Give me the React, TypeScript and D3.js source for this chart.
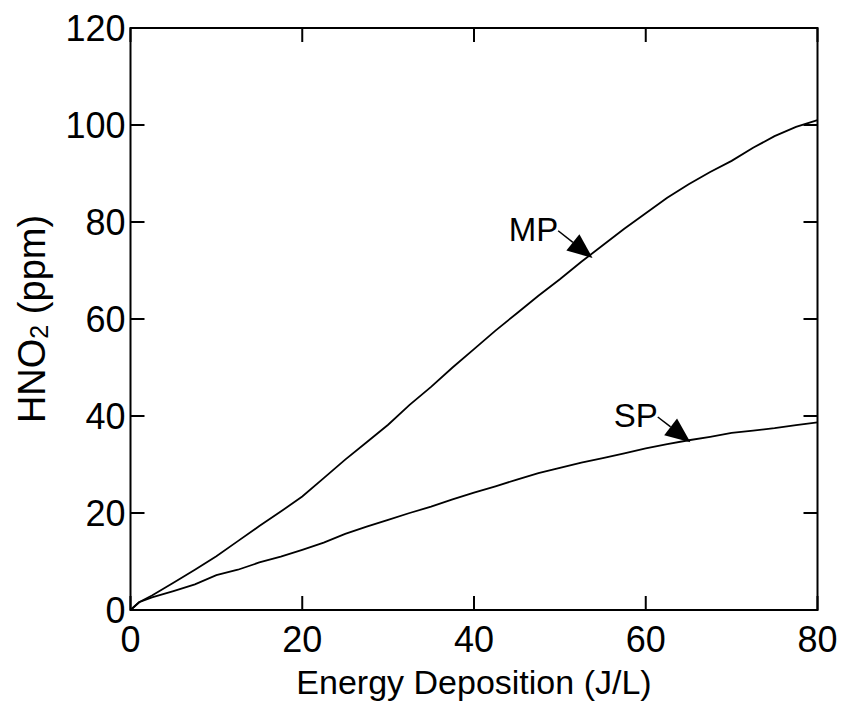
import * as d3 from "d3";
import { useEffect, useRef } from "react";

// energy deposition (J/L)
const energy = [0, 1, 2.5, 5, 7.5, 10, 12.5, 15, 17.5, 20, 22.5, 25, 27.5, 30, 32.5, 35, 37.5, 40, 42.5, 45, 47.5, 50, 52.5, 55, 57.5, 60, 62.5, 65, 67.5, 70, 72.5, 75, 77.5, 80];
// HNO2 (ppm), multi pulse
const mpValues = [0, 1.6, 3.0, 5.6, 8.3, 11.1, 14.2, 17.3, 20.3, 23.4, 27.2, 31.0, 34.6, 38.2, 42.3, 46.0, 50.0, 53.8, 57.6, 61.2, 64.8, 68.2, 71.8, 75.2, 78.6, 81.8, 85.0, 87.8, 90.3, 92.6, 95.3, 97.7, 99.6, 101];
// HNO2 (ppm), single pulse
const spValues = [0, 1.6, 2.6, 3.9, 5.3, 7.2, 8.3, 9.8, 11.0, 12.4, 13.9, 15.7, 17.2, 18.6, 20.0, 21.3, 22.8, 24.2, 25.5, 26.9, 28.2, 29.3, 30.4, 31.3, 32.3, 33.3, 34.2, 35.0, 35.7, 36.5, 37.0, 37.5, 38.1, 38.7];

const xTicks = [0, 20, 40, 60, 80];
const yTicks = [0, 20, 40, 60, 80, 100, 120];

// label text, arrow tail (x,y), arrow tip (x,y) in data units
const annotations = [
  { label: "MP", tail: [49.8, 78.2], tip: [53.8, 72.6] },
  { label: "SP", tail: [61.4, 39.8], tip: [65.2, 34.6] },
];

const W = 854;
const H = 701;
const FONT = "'Liberation Sans', Arial, Helvetica, sans-serif";

const App = () => {
  const ref = useRef<SVGSVGElement>(null);

  useEffect(() => {
    const svg = d3.select(ref.current);
    svg.selectAll("*").remove();

    const margin = { top: 28, left: 130.5, right: W - 817.5, bottom: H - 610 };
    const x = d3.scaleLinear().domain([0, 80]).range([margin.left, W - margin.right]);
    const y = d3.scaleLinear().domain([0, 120]).range([H - margin.bottom, margin.top]);

    svg.append("rect").attr("width", W).attr("height", H).attr("fill", "#fff");

    // curves
    const line = d3
      .line<number>()
      .x((_, i) => x(energy[i]))
      .y((d) => y(d));
    [mpValues, spValues].forEach((vals) => {
      svg
        .append("path")
        .datum(vals)
        .attr("d", line)
        .attr("fill", "none")
        .attr("stroke", "#000")
        .attr("stroke-width", 1.8);
    });

    // axes box
    svg
      .append("rect")
      .attr("x", x(0))
      .attr("y", y(120))
      .attr("width", x(80) - x(0))
      .attr("height", y(0) - y(120))
      .attr("fill", "none")
      .attr("stroke", "#000")
      .attr("stroke-width", 2);

    const tl = 14;
    const ticks = svg.append("g").attr("stroke", "#000").attr("stroke-width", 2);
    xTicks.forEach((t) => {
      ticks.append("line").attr("x1", x(t)).attr("x2", x(t)).attr("y1", y(0)).attr("y2", y(0) - tl);
      ticks.append("line").attr("x1", x(t)).attr("x2", x(t)).attr("y1", y(120)).attr("y2", y(120) + tl);
    });
    yTicks.forEach((t) => {
      ticks.append("line").attr("x1", x(0)).attr("x2", x(0) + tl).attr("y1", y(t)).attr("y2", y(t));
      ticks.append("line").attr("x1", x(80)).attr("x2", x(80) - tl).attr("y1", y(t)).attr("y2", y(t));
    });

    // tick labels
    svg
      .append("g")
      .selectAll("text")
      .data(xTicks)
      .enter()
      .append("text")
      .attr("x", (d) => x(d))
      .attr("y", y(0) + 42)
      .attr("text-anchor", "middle")
      .style("font-family", FONT)
      .style("font-size", "36px")
      .text((d) => d);

    svg
      .append("g")
      .selectAll("text")
      .data(yTicks)
      .enter()
      .append("text")
      .attr("x", x(0) - 5)
      .attr("y", (d) => y(d) + 13)
      .attr("text-anchor", "end")
      .style("font-family", FONT)
      .style("font-size", "36px")
      .text((d) => d);

    // axis titles
    svg
      .append("text")
      .attr("x", (x(0) + x(80)) / 2)
      .attr("y", 694)
      .attr("text-anchor", "middle")
      .style("font-family", FONT)
      .style("font-size", "34px")
      .text("Energy Deposition (J/L)");

    const yl = svg
      .append("text")
      .attr("transform", `translate(45, ${(y(0) + y(120)) / 2}) rotate(-90)`)
      .attr("text-anchor", "middle")
      .style("font-family", FONT)
      .style("font-size", "38px");
    yl.append("tspan").text("HNO");
    yl.append("tspan").attr("dy", 3).style("font-size", "25px").text("2");
    yl.append("tspan").attr("dy", -3).text(" (ppm)");

    // annotations with arrows
    annotations.forEach((a) => {
      const [tx, ty] = [x(a.tail[0]), y(a.tail[1])];
      const [px, py] = [x(a.tip[0]), y(a.tip[1])];
      const ang = Math.atan2(py - ty, px - tx);
      const hl = 25;
      const hw = 10.5;
      const bx = px - hl * Math.cos(ang);
      const by = py - hl * Math.sin(ang);
      svg
        .append("line")
        .attr("x1", tx)
        .attr("y1", ty)
        .attr("x2", bx)
        .attr("y2", by)
        .attr("stroke", "#000")
        .attr("stroke-width", 1.5);
      const pts = [
        [px, py],
        [bx - hw * Math.sin(ang), by + hw * Math.cos(ang)],
        [bx + hw * Math.sin(ang), by - hw * Math.cos(ang)],
      ];
      svg.append("polygon").attr("points", pts.map((p) => p.join(",")).join(" ")).attr("fill", "#000");
      svg
        .append("text")
        .attr("x", tx)
        .attr("y", ty + 10)
        .attr("text-anchor", "end")
        .style("font-family", FONT)
        .style("font-size", "33px")
        .text(a.label);
    });
  }, []);

  return (
    <svg
      ref={ref}
      width={W}
      height={H}
      style={{ position: "absolute", left: 0, top: 0, display: "block" }}
    ></svg>
  );
};

export default App;
